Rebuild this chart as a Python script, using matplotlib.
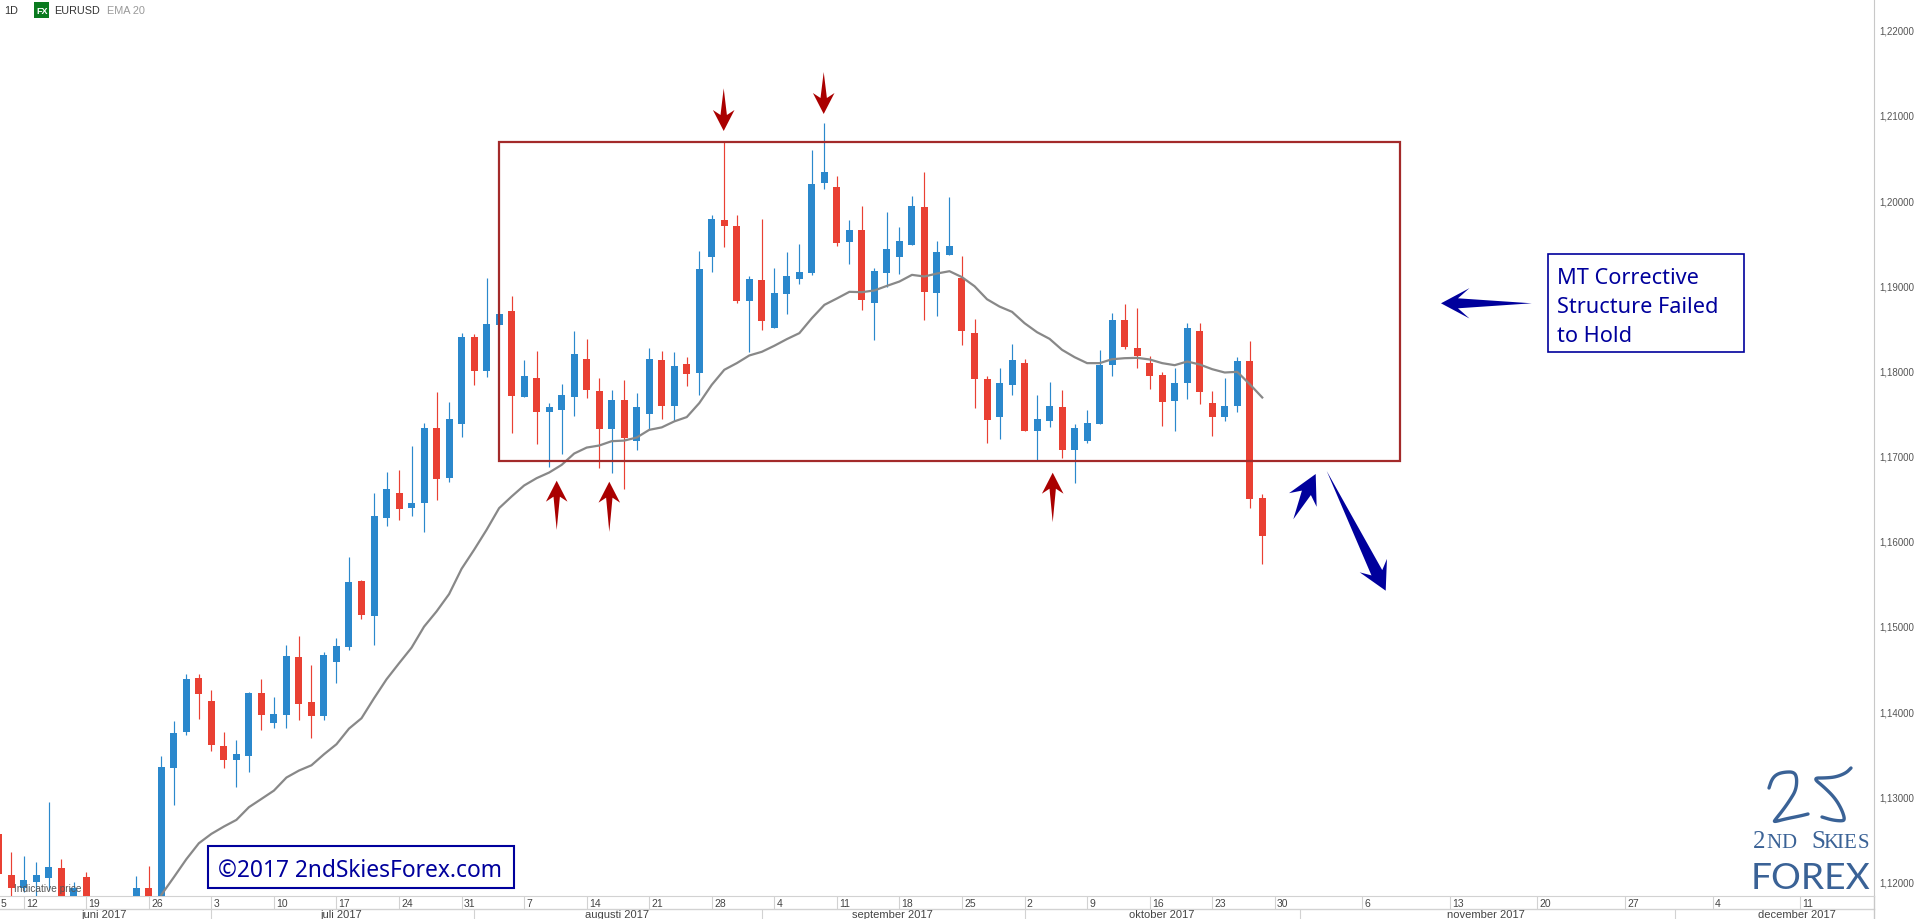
import matplotlib
matplotlib.use("Agg")
import matplotlib.pyplot as plt
import numpy as np
from matplotlib.patches import Polygon, Rectangle

# daily EURUSD candles in 1/100000 (one value per trading day)
opens = np.array([
    112572, 112091, 111934, 112009, 112056, 112173, 111800, 112067, 111650, 111700,
    111600, 111780, 111938, 111800, 113346, 113768, 114402, 114132, 113604, 113440,
    113487, 114226, 113874, 113968, 114648, 114120, 113956, 114589, 114760, 115542,
    115132, 116281, 116575, 116399, 116457, 117337, 116751, 117384, 118404, 118006,
    118545, 118709, 117701, 117924, 117525, 117548, 117701, 118146, 117771, 117325,
    117665, 117185, 117503, 118136, 117597, 118089, 117984, 119345, 119778, 119708,
    118828, 119075, 118512, 118910, 119086, 119157, 120213, 120166, 119520, 119661,
    118805, 119157, 119345, 119485, 119931, 118922, 119368, 119098, 118453, 117913,
    117467, 117842, 118101, 117303, 117420, 117584, 117080, 117186, 117385, 118077,
    118605, 118276, 118101, 117960, 117655, 117866, 118476, 117631, 117467, 117596,
    118124, 116517]) / 1e5
closes = np.array([
    112103, 111938, 112032, 112091, 112185, 111790, 111938, 111750, 111700, 111620,
    111750, 111938, 111800, 113358, 113757, 114390, 114214, 113616, 113440, 113510,
    114226, 113968, 113979, 114660, 114097, 113956, 114671, 114777, 115531, 115144,
    116305, 116622, 116387, 116457, 117337, 116739, 117443, 118404, 118006, 118557,
    118674, 117712, 117947, 117525, 117583, 117724, 118205, 117783, 117325, 117665,
    117220, 117583, 118148, 117597, 118066, 117972, 119204, 119790, 119708, 118828,
    119086, 118594, 118922, 119122, 119169, 120201, 120342, 119509, 119661, 118840,
    119180, 119438, 119532, 119943, 118934, 119403, 119474, 118476, 117913, 117432,
    117866, 118136, 117303, 117444, 117596, 117080, 117338, 117397, 118077, 118605,
    118288, 118183, 117948, 117643, 117866, 118511, 117760, 117467, 117596, 118124,
    116505, 116071]) / 1e5
highs = np.array([
    112572, 112361, 112314, 112243, 112947, 112279, 112009, 112126, 111780, 111790,
    111800, 112079, 112196, 113487, 113897, 114449, 114449, 114261, 113768, 113674,
    114237, 114390, 114179, 114789, 114894, 114554, 114707, 114871, 115824, 115554,
    116575, 116821, 116844, 117126, 117396, 117759, 117642, 118451, 118440, 119097,
    118674, 118885, 118135, 118240, 117630, 117853, 118475, 118381, 117924, 117783,
    117900, 117748, 118277, 118242, 118230, 118171, 119415, 119837, 120693, 119837,
    119122, 119790, 119215, 119403, 119497, 120600, 120916, 120295, 119779, 119943,
    119215, 119872, 119696, 120060, 120342, 119532, 120048, 119356, 118617, 117948,
    118042, 118323, 118147, 117725, 117878, 117784, 117385, 117549, 118253, 118687,
    118793, 118746, 118183, 117995, 118042, 118570, 118570, 117772, 117925, 118171,
    118359, 116564]) / 1e5
lows = np.array([
    112103, 111800, 111895, 111845, 111915, 111700, 111750, 111700, 111600, 111560,
    111540, 111700, 111760, 111780, 112912, 113733, 113921, 113545, 113346, 113123,
    113299, 113792, 113815, 113815, 113909, 113698, 113909, 114343, 114733, 115097,
    114792, 116188, 116258, 116305, 116117, 116493, 116704, 117232, 117841, 117935,
    118545, 117278, 117701, 117149, 116880, 117032, 117478, 117689, 116868, 116809,
    116622, 117079, 117315, 117444, 117421, 117831, 117726, 119169, 119462, 118805,
    118230, 118488, 118512, 118676, 119028, 119133, 120142, 119474, 119262, 118723,
    118371, 118993, 119145, 119485, 118606, 118652, 119368, 118312, 117573, 117162,
    117209, 117725, 117303, 116963, 117350, 116986, 116693, 117162, 117385, 117948,
    118265, 118042, 117796, 117362, 117303, 117678, 117620, 117244, 117420, 117526,
    116400, 115743]) / 1e5

# EMA 20 starts on the 14th candle
ema_start = 13
ema = np.array([
    111856, 112063, 112275, 112462, 112572, 112658, 112736, 112885, 112982, 113080,
    113233, 113315, 113377, 113506, 113624, 113807, 113929, 114163, 114386, 114574,
    114757, 115004, 115183, 115386, 115683, 115906, 116141, 116395, 116532, 116661,
    116747, 116813, 116903, 117036, 117106, 117130, 117181, 117188, 117224, 117314,
    117343, 117413, 117464, 117628, 117843, 118019, 118097, 118187, 118230, 118301,
    118379, 118449, 118625, 118781, 118856, 118934, 118930, 118950, 119004, 119055,
    119133, 119114, 119149, 119176, 119106, 119000, 118847, 118761, 118699, 118566,
    118460, 118382, 118253, 118167, 118097, 118097, 118143, 118155, 118159, 118140,
    118097, 118073, 118116, 118081, 118026, 117987, 117995, 117850, 117694]) / 1e5

price_ticks = [1.12, 1.13, 1.14, 1.15, 1.16, 1.17, 1.18, 1.19, 1.20, 1.21, 1.22]
price_labels = ["1,12000", "1,13000", "1,14000", "1,15000", "1,16000", "1,17000",
                "1,18000", "1,19000", "1,20000", "1,21000", "1,22000"]

week_pos = [0, 2, 7, 12, 17, 22, 27, 32, 37, 42, 47, 52, 57, 62, 67, 72, 77, 82, 87,
            92, 97, 102, 109, 116, 123, 130, 137, 144]
week_labels = ["5", "12", "19", "26", "3", "10", "17", "24", "31", "7", "14", "21", "28",
               "4", "11", "18", "25", "2", "9", "16", "23", "30", "6", "13", "20", "27",
               "4", "11"]
month_sep = [17, 38, 61, 82, 104, 134]
month_pos = [8.4, 27.4, 49.4, 71.4, 93, 118.9, 143.7]
month_labels = ["juni 2017", "juli 2017", "augusti 2017", "september 2017",
                "oktober 2017", "november 2017", "december 2017"]

W, H = 1916, 919
BLUE = "#2b88cc"
RED = "#e94033"
NAVY = "#00009c"
LOGO = "#3a6296"
GREY = "#555555"
LINE = "#d2d2d2"

plt.rcParams["font.family"] = ["Liberation Sans", "DejaVu Sans"]
fig = plt.figure(figsize=(W / 100, H / 100), dpi=100)
ax = fig.add_axes([0, (H - 896) / H, 1874 / W, 896 / H])
ax.set_xlim(0.104, 149.9)
ax.set_ylim(1.118427, 1.223592)

# candles
x = np.arange(len(opens))
colors = [BLUE if c >= o else RED for o, c in zip(opens, closes)]
ax.vlines(x, lows, highs, colors=colors, linewidth=0.85, zorder=3)
ax.bar(x, np.abs(closes - opens), bottom=np.minimum(opens, closes), width=0.56,
       color=colors, linewidth=0, zorder=3)
ax.plot(np.arange(len(ema)) + ema_start, ema, color="#888888", linewidth=1.6, zorder=4)

# range box
ax.add_patch(Rectangle((40, 1.16952), 72, 1.20696 - 1.16952, fill=False,
                       edgecolor="#a32a2a", linewidth=1.6, zorder=5))

# axes
ax.yaxis.tick_right()
ax.set_yticks(price_ticks, price_labels, fontsize=7, color=GREY)
ax.tick_params(axis="y", length=0, pad=4)
ax.set_xticks([])
for side in ["top", "left"]:
    ax.spines[side].set_visible(False)
ax.spines["right"].set_color("#c8c8c8")
ax.spines["bottom"].set_color(LINE)

# date rows under the chart
row1 = -13 / 896
row2 = -23 / 896
xform = ax.get_xaxis_transform()
ax.plot([0, 1], [row1, row1], transform=ax.transAxes, color=LINE, linewidth=1, clip_on=False)
ax.plot([1, 1], [row2, 0], transform=ax.transAxes, color="#c8c8c8", linewidth=1, clip_on=False)
ax.vlines(week_pos[1:], row1, 0, transform=xform, color=LINE, linewidth=0.8, clip_on=False)
ax.vlines(month_sep, row2, row1, transform=xform, color=LINE, linewidth=0.8, clip_on=False)
for pos, lab in zip(week_pos, week_labels):
    ax.annotate(lab, (pos, 0), xycoords=xform, xytext=(1.6, -7.9), textcoords="offset points",
                fontsize=7.5, color="#444444", va="baseline", annotation_clip=False)
for pos, lab in zip(month_pos, month_labels):
    ax.text(pos, -22.5 / 896, lab, transform=xform, fontsize=8, color="#444444",
            ha="center", va="baseline", clip_on=False)

# overlay in image pixels for the hand drawn annotations
ov = fig.add_axes([0, 0, 1, 1], facecolor="none")
ov.set_xlim(0, W)
ov.set_ylim(H, 0)
ov.axis("off")


def arrow(tip, tail, barb, half, neck, neck_half, color):
    tip = np.array(tip, dtype=float)
    tail = np.array(tail, dtype=float)
    d = (tail - tip) / np.linalg.norm(tail - tip)
    n = np.array([-d[1], d[0]])
    pts = [tip, tip + d * barb + n * half, tip + d * neck + n * neck_half, tail,
           tip + d * neck - n * neck_half, tip + d * barb - n * half]
    ov.add_patch(Polygon(pts, closed=True, facecolor=color, edgecolor="none", zorder=6))


# corner cutting, makes the logo strokes look less polygonal
def smooth(pts, rounds=3):
    pts = np.array(pts, dtype=float)
    for _ in range(rounds):
        q = 0.75 * pts[:-1] + 0.25 * pts[1:]
        r = 0.25 * pts[:-1] + 0.75 * pts[1:]
        mid = np.empty((len(q) * 2, 2))
        mid[0::2] = q
        mid[1::2] = r
        pts = np.vstack([pts[:1], mid, pts[-1:]])
    return pts


# red arrows at the range edges
for tip, tail in [((556.7, 480.7), (556.7, 530)), ((609.3, 481.7), (609.3, 532)),
                  ((1052.7, 472.7), (1052.7, 522.3)), ((723.7, 131), (723.7, 88.3)),
                  ((823.7, 114), (823.7, 72))]:
    arrow(tip, tail, 21, 10.8, 16, 3.2, "#aa0000")

# blue arrows
arrow((1441, 303.3), (1531.8, 303.3), 28.5, 15.2, 17, 5, NAVY)
arrow((1315.7, 474), (1293.3, 519.3), 29, 15.4, 21, 5, NAVY)
arrow((1385.7, 590.7), (1326.7, 471), 28, 15.2, 20, 6, NAVY)

# text boxes
ov.add_patch(Rectangle((1548, 253.7), 196, 98.3, facecolor="white", edgecolor=NAVY,
                       linewidth=1.2, zorder=6))
for y, line in [(284, "MT Corrective"), (312.7, "Structure Failed"), (341.7, "to Hold")]:
    ov.text(1557.5, y, line, fontsize=15.6, color=NAVY, family="Noto Sans", va="baseline", zorder=7)
ov.add_patch(Rectangle((208.5, 846), 305.5, 42.3, facecolor="white", edgecolor=NAVY,
                       linewidth=1.5, zorder=6))
ov.text(218, 877, "©2017 2ndSkiesForex.com", fontsize=16.4, color=NAVY, family="Noto Sans",
        va="baseline", zorder=7)

# header
ov.text(4.5, 14, "1D", fontsize=7.8, color="#333333", va="baseline")
ov.add_patch(Rectangle((34, 2), 15.5, 15.5, facecolor="#0a7a1f", edgecolor="none"))
ov.text(41.8, 13.5, "FX", fontsize=6.5, color="white", fontweight="bold", ha="center", va="baseline")
ov.text(54, 14, "EURUSD", fontsize=7.8, color="#333333", va="baseline")
ov.text(107, 14, "EMA 20", fontsize=7.8, color="#999999", va="baseline")
ov.text(14, 892, "Indicative price", fontsize=7.3, color=GREY, va="baseline", zorder=1)

# logo
two = [(1769, 788), (1772, 779), (1777, 774), (1785, 772), (1794, 772), (1797, 778), (1796, 790),
       (1790, 800), (1783, 810), (1775, 820), (1774, 822), (1785, 819), (1800, 816), (1808, 814)]
five = [(1851, 768), (1846, 773), (1836, 777), (1825, 778), (1813, 778), (1824, 787), (1835, 798),
        (1842, 810), (1845, 820), (1841, 821), (1832, 820), (1822, 817)]
for stroke in [two, five]:
    pts = smooth(stroke)
    ov.plot(pts[:, 0], pts[:, 1], color=LOGO, linewidth=2.4, solid_capstyle="round")
for px, piece, size in [(1752.7, "2", 18), (1766, "N", 15), (1781.7, "D", 15), (1811, "S", 18),
                        (1823, "K", 15), (1836.7, "I", 15), (1843, "E", 15), (1858, "S", 15)]:
    ov.text(px, 848.3, piece, fontsize=size, color=LOGO, family="Liberation Serif", va="baseline")
ov.text(1751, 889.3, "FOREX", fontsize=26.8, color=LOGO, family="Lato", va="baseline")

fig.savefig("out.png", dpi=100)
